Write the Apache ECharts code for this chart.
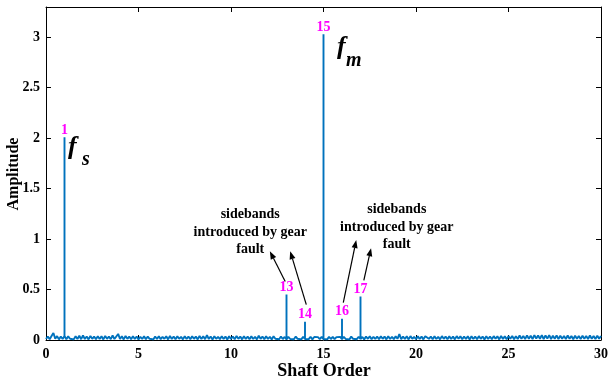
<!DOCTYPE html>
<html>
<head>
<meta charset="utf-8">
<script src="https://cdn.jsdelivr.net/npm/echarts@6/dist/echarts.min.js"></script>
<style>
  html, body { margin: 0; padding: 0; background: #fff; }
  #chart { width: 611px; height: 379px; }
</style>
</head>
<body>
<div id="chart"></div>
<script>
// Order spectrum: noise floor sampled every 0.1 shaft order, plus discrete peaks.
const noiseStep = 0.1;
const noiseFloor = [
  0.01, 0.035, 0.008, 0.04, 0.07, 0.012, 0.038, 0.006, 0.035, 0.01,
  0.04, 0.008, 0.036, 0.012, 0.03, 0.006, 0.038, 0.01, 0.042, 0.008,
  0.045, 0.01, 0.035, 0.006, 0.04, 0.012, 0.034, 0.008, 0.038, 0.01,
  0.036, 0.006, 0.04, 0.012, 0.035, 0.008, 0.045, 0.01, 0.035, 0.06,
  0.01, 0.036, 0.006, 0.04, 0.012, 0.034, 0.008, 0.038, 0.01, 0.035,
  0.006, 0.032, 0.01, 0.036, 0.008, 0.034, 0.012, 0.03, 0.006, 0.035,
  0.01, 0.038, 0.008, 0.032, 0.012, 0.036, 0.006, 0.04, 0.01, 0.034,
  0.008, 0.036, 0.012, 0.032, 0.006, 0.038, 0.01, 0.034, 0.008, 0.036,
  0.012, 0.034, 0.006, 0.04, 0.01, 0.036, 0.008, 0.048, 0.01, 0.035,
  0.006, 0.036, 0.012, 0.032, 0.008, 0.038, 0.01, 0.034, 0.006, 0.036,
  0.01, 0.035, 0.008, 0.04, 0.012, 0.034, 0.006, 0.038, 0.01, 0.033,
  0.008, 0.036, 0.01, 0.032, 0.006, 0.042, 0.012, 0.034, 0.008, 0.036,
  0.01, 0.032, 0.006, 0.036, 0.012, 0.03, 0.008, 0.034, 0.01, 0.03,
  0.006, 0.032, 0.01, 0.028, 0.008, 0.034, 0.012, 0.03, 0.006, 0.032,
  0.01, 0.028, 0.008, 0.032, 0.006, 0.03, 0.012, 0.028, 0.008, 0.03,
  0.01, 0.028, 0.006, 0.032, 0.01, 0.03, 0.008, 0.028, 0.012, 0.03,
  0.008, 0.032, 0.01, 0.028, 0.006, 0.034, 0.012, 0.03, 0.008, 0.032,
  0.01, 0.03, 0.006, 0.034, 0.012, 0.036, 0.008, 0.032, 0.01, 0.034,
  0.008, 0.036, 0.012, 0.034, 0.006, 0.038, 0.01, 0.032, 0.008, 0.036,
  0.012, 0.058, 0.008, 0.034, 0.01, 0.036, 0.006, 0.038, 0.012, 0.032,
  0.008, 0.036, 0.01, 0.034, 0.006, 0.038, 0.05, 0.012, 0.034, 0.008,
  0.036, 0.01, 0.032, 0.006, 0.038, 0.012, 0.034, 0.008, 0.036, 0.01,
  0.034, 0.006, 0.038, 0.012, 0.036, 0.008, 0.034, 0.01, 0.036, 0.006,
  0.036, 0.01, 0.034, 0.008, 0.038, 0.012, 0.034, 0.006, 0.036, 0.01,
  0.034, 0.008, 0.038, 0.012, 0.036, 0.006, 0.04, 0.01, 0.036, 0.008,
  0.038, 0.012, 0.04, 0.008, 0.038, 0.01, 0.044, 0.012, 0.04, 0.01,
  0.046, 0.012, 0.042, 0.01, 0.048, 0.014, 0.044, 0.012, 0.048, 0.01,
  0.044, 0.014, 0.048, 0.01, 0.042, 0.012, 0.046, 0.01, 0.042, 0.012,
  0.04, 0.01, 0.044, 0.012, 0.04, 0.008, 0.042, 0.012, 0.04, 0.01,
  0.042, 0.012, 0.04, 0.01, 0.044, 0.012, 0.04, 0.01, 0.042, 0.012,
  0.04
];
const peakOrders = [1, 13, 14, 15, 16, 17];
const peakAmps   = [2.01, 0.45, 0.18, 3.03, 0.21, 0.43];

// Annotation arrows (shaft order, amplitude): tail -> head
const arrowTails = [[12.93, 0.58], [14.07, 0.35], [16.07, 0.37], [17.18, 0.59]];
const arrowHeads = [[12.10, 0.88], [13.20, 0.88], [16.77, 0.99], [17.57, 0.91]];
const sidebandText = 'sidebands\nintroduced by gear\nfault';
const sidebandAnchors = [[11.04, 1.07], [18.96, 1.12]];

const FONT = '"Liberation Serif", "Times New Roman", serif';
const BLUE = '#0072BD';
const MAGENTA = '#FF00FF';

// Merge noise samples and peaks into one trace (peaks drawn as vertical strokes)
const trace = [];
const peakByIdx = {};
peakOrders.forEach((o, k) => { peakByIdx[Math.round(o / noiseStep)] = peakAmps[k]; });
noiseFloor.forEach((v, i) => {
  const x = +(i * noiseStep).toFixed(2);
  if (peakByIdx[i] !== undefined) {
    trace.push([x, v], [x, peakByIdx[i]], [x, v]);
  } else {
    trace.push([x, v]);
  }
});

const chart = echarts.init(document.getElementById('chart'), null, { renderer: 'canvas' });

const axisCommon = {
  type: 'value',
  splitLine: { show: false },
  axisLine: { show: true, onZero: false, lineStyle: { color: '#000', width: 1 } },
  axisTick: { show: true, inside: true, length: 5, lineStyle: { color: '#000', width: 1 } }
};

chart.setOption({
  animation: false,
  backgroundColor: '#fff',
  grid: { left: 46, right: 8, top: 7, bottom: 39, containLabel: false },
  xAxis: [
    Object.assign({}, axisCommon, {
      position: 'bottom', min: 0, max: 30, interval: 5,
      axisLabel: { color: '#000', fontFamily: FONT, fontWeight: 'bold', fontSize: 14, margin: 7 }
    }),
    Object.assign({}, axisCommon, {
      position: 'top', min: 0, max: 30, interval: 5,
      axisLabel: { show: false }
    })
  ],
  yAxis: [
    Object.assign({}, axisCommon, {
      position: 'left', min: 0, max: 3.3, interval: 0.5,
      axisLabel: {
        color: '#000', fontFamily: FONT, fontWeight: 'bold', fontSize: 14, margin: 6,
        formatter: v => (Math.abs(v * 2 - Math.round(v * 2)) < 1e-6 ? String(v) : '')
      }
    }),
    Object.assign({}, axisCommon, {
      position: 'right', min: 0, max: 3.3, interval: 0.5,
      axisLabel: { show: false }
    })
  ],
  series: [{
    type: 'line',
    xAxisIndex: 0,
    yAxisIndex: 0,
    data: trace,
    showSymbol: false,
    symbol: 'none',
    lineStyle: { color: BLUE, width: 1.9 },
    z: 2
  }]
});

// Annotations positioned through the axes' scales
const toPx = p => chart.convertToPixel({ seriesIndex: 0 }, p);
const graphics = [];

// Arrows: shaft line plus a filled head
const HEAD_LEN = 8, HEAD_HALF = 3;
arrowTails.forEach((t, k) => {
  const a = toPx(t), b = toPx(arrowHeads[k]);
  const dx = b[0] - a[0], dy = b[1] - a[1];
  const len = Math.hypot(dx, dy), ux = dx / len, uy = dy / len;
  const bx = b[0] - ux * HEAD_LEN, by = b[1] - uy * HEAD_LEN;
  graphics.push({
    type: 'line', z: 9,
    shape: { x1: a[0], y1: a[1], x2: bx, y2: by },
    style: { stroke: '#000', lineWidth: 1.2 }
  });
  graphics.push({
    type: 'polygon', z: 9,
    shape: { points: [b, [bx - uy * HEAD_HALF, by + ux * HEAD_HALF], [bx + uy * HEAD_HALF, by - ux * HEAD_HALF]] },
    style: { fill: '#000' }
  });
});

peakOrders.forEach((o, k) => {
  const p = toPx([o, peakAmps[k]]);
  graphics.push({
    type: 'text', x: p[0], y: p[1] - 7, z: 10,
    style: {
      text: String(o), fill: MAGENTA, font: 'bold 14px ' + FONT,
      align: 'center', verticalAlign: 'middle'
    }
  });
});

// f_s next to the shaft-order peak and f_m next to the mesh-order peak
const symbolParts = [
  { t: 'f', at: [1.185, 1.91], size: 26 },
  { t: 's', at: [1.94, 1.79], size: 20 },
  { t: 'f', at: [15.73, 2.90], size: 26 },
  { t: 'm', at: [16.21, 2.77], size: 20 }
];
symbolParts.forEach(s => {
  const p = toPx(s.at);
  graphics.push({
    type: 'text', x: p[0], y: p[1], z: 10,
    style: {
      text: s.t, fill: '#000', font: 'italic bold ' + s.size + 'px ' + FONT,
      align: 'left', verticalAlign: 'middle'
    }
  });
});

sidebandAnchors.forEach(a => {
  const p = toPx(a);
  graphics.push({
    type: 'text', x: p[0], y: p[1], z: 10,
    style: {
      text: sidebandText, fill: '#000', font: 'bold 14px ' + FONT,
      align: 'center', verticalAlign: 'middle', lineHeight: 17.5
    }
  });
});

// Axis titles
graphics.push({
  type: 'text', x: 14, y: 174, rotation: Math.PI / 2, z: 10,
  style: { text: 'Amplitude', fill: '#000', font: 'bold 16px ' + FONT, align: 'center', verticalAlign: 'middle' }
});
graphics.push({
  type: 'text', x: 324, y: 371, z: 10,
  style: { text: 'Shaft Order', fill: '#000', font: 'bold 18px ' + FONT, align: 'center', verticalAlign: 'middle' }
});

chart.setOption({ graphic: graphics });
</script>
</body>
</html>
